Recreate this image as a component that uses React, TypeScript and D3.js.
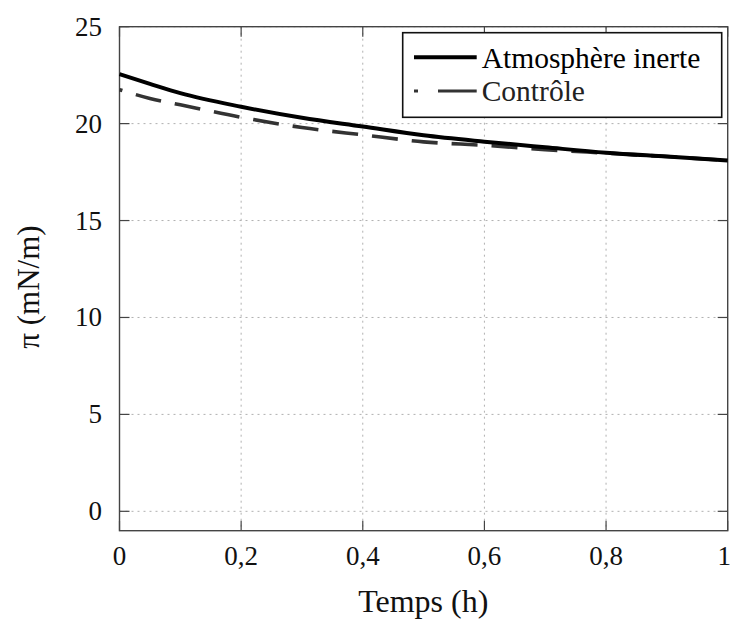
import React from "react";
import * as d3 from "d3";

const timeH = [0, 0.05, 0.1, 0.2, 0.3, 0.4, 0.5, 0.6, 0.7, 0.8, 0.9, 1.0];
const inerte = [22.55, 22.05, 21.57, 20.87, 20.3, 19.85, 19.4, 19.07, 18.78, 18.5, 18.3, 18.1];
const controle = [21.75, 21.3, 20.97, 20.33, 19.8, 19.42, 19.06, 18.88, 18.66, 18.48, 18.3, 18.1];
const xTicks = [0, 0.2, 0.4, 0.6, 0.8, 1];
const yTicks = [0, 5, 10, 15, 20, 25];
const seriesNames = ["Atmosphère inerte", "Contrôle"];

const W = 732, H = 619;
const L = 119.5, R = 727.7, T = 26.7, B = 530.7;
const FONT = "Liberation Serif, serif";
const tx = { fontFamily: FONT };

export default function App() {
  const x = d3.scaleLinear().domain([0, 1]).range([L, R]);
  const y = d3.scaleLinear().domain([-1, 25]).range([B, T]);
  const line = d3
    .line<number>()
    .x((_, i) => x(timeH[i]))
    .y((d) => y(d))
    .curve(d3.curveMonotoneX);
  const axisColor = "#444";
  const tl = 10;
  return (
    <svg
      width={W}
      height={H}
      style={{ position: "absolute", left: 0, top: 0, background: "#fff" }}
    >
      <rect x={0} y={0} width={W} height={H} fill="#fff" />
      {xTicks.slice(1, -1).map((t) => (
        <line key={"gx" + t} x1={x(t)} x2={x(t)} y1={T} y2={B} stroke="#b0b0b0" strokeWidth={1} strokeDasharray="2,4" />
      ))}
      {yTicks.map((t) => (
        <line key={"gy" + t} x1={L} x2={R} y1={y(t)} y2={y(t)} stroke="#b0b0b0" strokeWidth={1} strokeDasharray="2,4" />
      ))}
      {xTicks.map((t, i) => (
        <g key={"tx" + t}>
          <line x1={x(t)} x2={x(t)} y1={B} y2={B - tl} stroke={axisColor} strokeWidth={1.2} />
          <line x1={x(t)} x2={x(t)} y1={T} y2={T + tl} stroke={axisColor} strokeWidth={1.2} />
          <text
            x={i === xTicks.length - 1 ? W - 1 : x(t)}
            y={565}
            textAnchor={i === xTicks.length - 1 ? "end" : "middle"}
            fontSize={27}
            fill="#111"
            style={tx}
          >
            {String(t).replace(".", ",")}
          </text>
        </g>
      ))}
      {yTicks.map((t) => (
        <g key={"ty" + t}>
          <line x1={L} x2={L + tl} y1={y(t)} y2={y(t)} stroke={axisColor} strokeWidth={1.2} />
          <line x1={R} x2={R - tl} y1={y(t)} y2={y(t)} stroke={axisColor} strokeWidth={1.2} />
          <text x={102} y={y(t) + 9} textAnchor="end" fontSize={27} fill="#111" style={tx}>
            {t}
          </text>
        </g>
      ))}
      <rect x={L} y={T} width={R - L} height={B - T} fill="none" stroke={axisColor} strokeWidth={1.4} />
      <path d={line(controle) || ""} fill="none" stroke="#333" strokeWidth={3.6} strokeDasharray="26,14" strokeDashoffset={23} />
      <path d={line(inerte) || ""} fill="none" stroke="#000" strokeWidth={4} />
      <rect x={402.7} y={32.7} width={319} height={84.6} fill="#fff" stroke="#111" strokeWidth={1.6} />
      <line x1={414} x2={476.7} y1={57.3} y2={57.3} stroke="#000" strokeWidth={4} />
      <text x={481.7} y={68.3} fontSize={29.5} fill="#000" style={tx}>{seriesNames[0]}</text>
      <line x1={414} x2={476.7} y1={91} y2={91} stroke="#333" strokeWidth={3} strokeDasharray="4,20,39" />
      <text x={481.7} y={100.7} fontSize={29.5} fill="#222" style={tx}>{seriesNames[1]}</text>
      <text x={423.3} y={612} textAnchor="middle" fontSize={32} fill="#111" style={tx}>Temps (h)</text>
      <text transform={`translate(39,287) rotate(-90)`} textAnchor="middle" fontSize={31} fill="#111" style={tx}>
        π (mN/m)
      </text>
    </svg>
  );
}
